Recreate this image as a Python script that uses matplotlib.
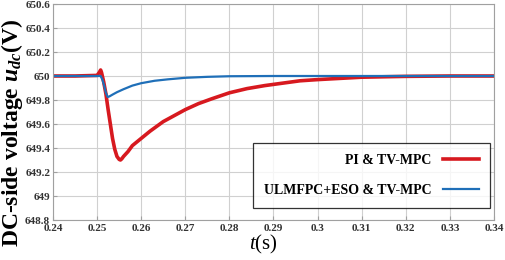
import matplotlib
matplotlib.use("Agg")
import matplotlib.pyplot as plt

# PI & TV-MPC response
t_pi = [0.24, 0.245, 0.25, 0.2505, 0.2508, 0.251, 0.2515, 0.252, 0.2525, 0.253, 0.2535,
        0.254, 0.2545, 0.255, 0.2553, 0.2556, 0.256, 0.257, 0.258, 0.26, 0.262, 0.265,
        0.268, 0.27, 0.273, 0.276, 0.28, 0.284, 0.288, 0.292, 0.296, 0.30, 0.305, 0.31,
        0.32, 0.33, 0.34]
u_pi = [650.0, 650.0, 650.005, 650.03, 650.05, 650.03, 649.95, 649.85, 649.72, 649.6, 649.48,
        649.39, 649.33, 649.305, 649.30, 649.31, 649.33, 649.37, 649.42, 649.48, 649.54, 649.62,
        649.68, 649.72, 649.77, 649.81, 649.86, 649.895, 649.92, 649.94, 649.96, 649.97, 649.98, 649.99,
        649.997, 650.0, 650.0]

# ULMFPC+ESO & TV-MPC response
t_eso = [0.24, 0.25, 0.2508, 0.2512, 0.2516, 0.252, 0.2524, 0.2528, 0.2535, 0.2545, 0.256,
         0.258, 0.26, 0.263, 0.266, 0.27, 0.275, 0.28, 0.29, 0.30, 0.34]
u_eso = [650.0, 650.0, 650.0, 649.97, 649.92, 649.86, 649.825, 649.83, 649.845, 649.865, 649.89,
         649.92, 649.94, 649.96, 649.972, 649.985, 649.993, 649.998, 650.0, 650.0, 650.0]

x_ticks = [0.24, 0.25, 0.26, 0.27, 0.28, 0.29, 0.30, 0.31, 0.32, 0.33, 0.34]
x_labels = ["0.24", "0.25", "0.26", "0.27", "0.28", "0.29", "0.3", "0.31", "0.32", "0.33", "0.34"]
y_ticks = [648.8, 649.0, 649.2, 649.4, 649.6, 649.8, 650.0, 650.2, 650.4, 650.6]
y_labels = ["648.8", "649", "649.2", "649.4", "649.6", "649.8", "650", "650.2", "650.4", "650.6"]

labels = ["PI & TV-MPC", "ULMFPC+ESO & TV-MPC"]
colors = ["#D7191F", "#1F6FB8"]

plt.rcParams['font.family'] = ['Liberation Serif', 'DejaVu Serif']
plt.rcParams['mathtext.fontset'] = 'custom'
plt.rcParams['mathtext.rm'] = 'Liberation Serif'
plt.rcParams['mathtext.it'] = 'Liberation Serif:italic'
plt.rcParams['mathtext.bf'] = 'Liberation Serif:bold'
plt.rcParams['mathtext.bfit'] = 'Liberation Serif:bold:italic'

fig = plt.figure(figsize=(5.05, 2.6), dpi=100)
ax = fig.add_axes([53/505, 1 - 220/260, (494 - 53)/505, (220 - 4)/260])

ax.plot(t_pi, u_pi, color=colors[0], lw=2.6, label=labels[0])
ax.plot(t_eso, u_eso, color=colors[1], lw=1.6, label=labels[1])

ax.set_xlim(0.24, 0.34)
ax.set_ylim(648.8, 650.6)
ax.set_xticks(x_ticks)
ax.set_xticklabels(x_labels)
ax.set_yticks(y_ticks)
ax.set_yticklabels(y_labels)
ax.grid(True, color="#d0d0d0", lw=0.8)
ax.set_axisbelow(True)
for s in ax.spines.values():
    s.set_color("#a0a0a0")
    s.set_linewidth(0.8)
ax.tick_params(direction="in", length=3, color="#a0a0a0", labelsize=8, pad=2)
ax.tick_params(axis="x", pad=3)
for lab in ax.get_xticklabels() + ax.get_yticklabels():
    lab.set_fontweight("bold")
    lab.set_color("#333333")

fig.text(0.024, 127/260, r"DC-side voltage $\boldsymbol{u}_{\boldsymbol{dc}}$(V)", rotation=90,
         ha="center", va="center", fontsize=17, fontweight="bold")
fig.text(263/505, 1 - 244/260, r"$t$(s)", ha="center", va="center", fontsize=15)

leg = ax.legend(loc="lower right", bbox_to_anchor=(1.0, 0.035), markerfirst=False,
                prop={'weight': 'bold', 'size': 10}, frameon=True, fancybox=False,
                edgecolor="black", labelspacing=1.25, handlelength=2.6,
                borderpad=0.8, borderaxespad=0.3)
leg.get_frame().set_linewidth(0.9)
for txt in leg.get_texts():
    txt.set_ha("right")
leg._legend_box.align = "right"

fig.savefig("out.png", dpi=100)
